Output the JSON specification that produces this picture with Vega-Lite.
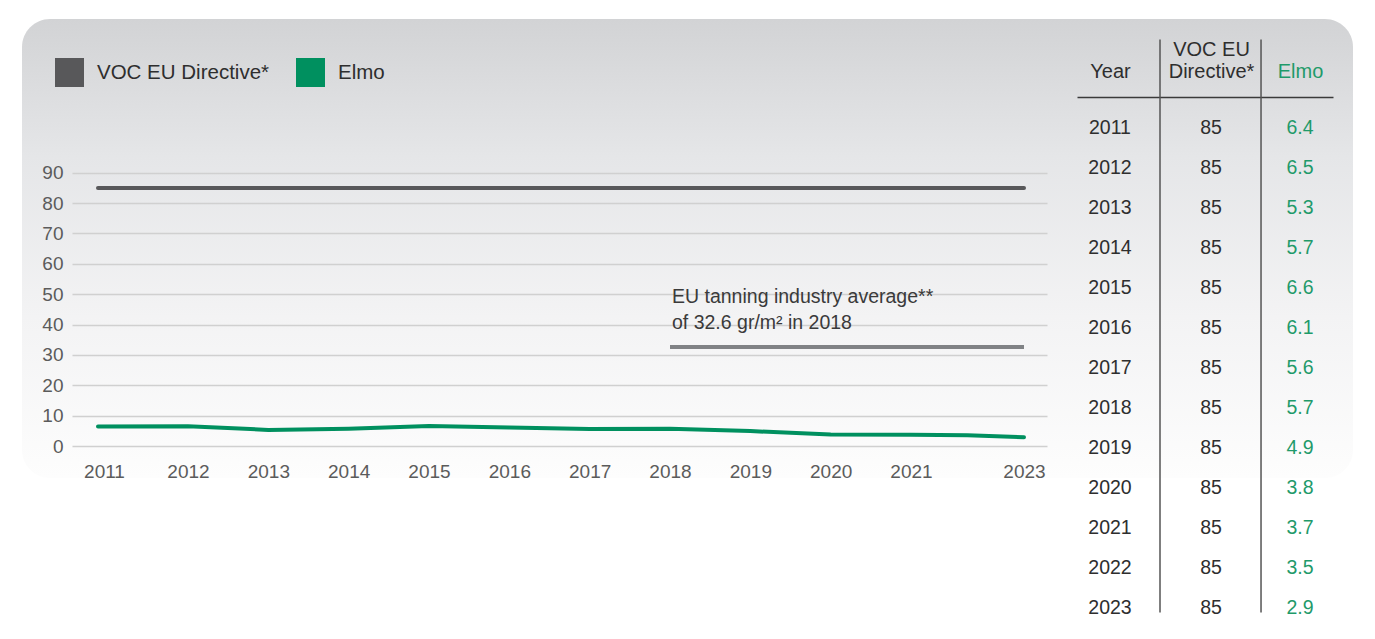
{
  "$schema": "https://vega.github.io/schema/vega-lite/v6.json",
  "width": 1331,
  "height": 459,
  "autosize": "none",
  "padding": {"left": 22, "top": 19, "right": 22, "bottom": 161},
  "background": "white",
  "config": {
    "font": "Liberation Sans",
    "view": {
      "stroke": null,
      "cornerRadius": 28,
      "fill": {
        "gradient": "linear", "x1": 0, "y1": 0, "x2": 0, "y2": 1,
        "stops": [
          {"offset": 0, "color": "#d2d3d5"},
          {"offset": 0.3, "color": "#e5e6e8"},
          {"offset": 0.65, "color": "#f3f3f4"},
          {"offset": 1, "color": "#fdfdfd"}
        ]
      }
    },
    "text": {"font": "Liberation Sans"}
  },
  "datasets": {
    "voc": [
      {"year": 2011, "series": "VOC EU Directive*", "value": 85},
      {"year": 2012, "series": "VOC EU Directive*", "value": 85},
      {"year": 2013, "series": "VOC EU Directive*", "value": 85},
      {"year": 2014, "series": "VOC EU Directive*", "value": 85},
      {"year": 2015, "series": "VOC EU Directive*", "value": 85},
      {"year": 2016, "series": "VOC EU Directive*", "value": 85},
      {"year": 2017, "series": "VOC EU Directive*", "value": 85},
      {"year": 2018, "series": "VOC EU Directive*", "value": 85},
      {"year": 2019, "series": "VOC EU Directive*", "value": 85},
      {"year": 2020, "series": "VOC EU Directive*", "value": 85},
      {"year": 2021, "series": "VOC EU Directive*", "value": 85},
      {"year": 2022, "series": "VOC EU Directive*", "value": 85},
      {"year": 2023, "series": "VOC EU Directive*", "value": 85},
      {"year": 2011, "series": "Elmo", "value": 6.4},
      {"year": 2012, "series": "Elmo", "value": 6.5},
      {"year": 2013, "series": "Elmo", "value": 5.3},
      {"year": 2014, "series": "Elmo", "value": 5.7},
      {"year": 2015, "series": "Elmo", "value": 6.6},
      {"year": 2016, "series": "Elmo", "value": 6.1},
      {"year": 2017, "series": "Elmo", "value": 5.6},
      {"year": 2018, "series": "Elmo", "value": 5.7},
      {"year": 2019, "series": "Elmo", "value": 4.9},
      {"year": 2020, "series": "Elmo", "value": 3.8},
      {"year": 2021, "series": "Elmo", "value": 3.7},
      {"year": 2022, "series": "Elmo", "value": 3.5},
      {"year": 2023, "series": "Elmo", "value": 2.9}
    ],
    "avg": [
      {"start_year": 2018, "end_year": 2023, "value": 32.6, "note": "EU tanning industry average**\nof 32.6 gr/m² in 2018"}
    ]
  },
  "data": {"name": "voc"},
  "layer": [
    {
      "layer": [
        {
          "mark": {"type": "line", "strokeWidth": 4, "strokeCap": "round"},
          "encoding": {
            "x": {
              "field": "year", "type": "quantitative",
              "scale": {"domain": [2010.6, 2011, 2012, 2021, 2023, 2023.5], "range": [50, 76, 166, 889, 1002, 1025]},
              "axis": {"orient": "bottom", "offset": -32, "values": [2011, 2012, 2013, 2014, 2015, 2016, 2017, 2018, 2019, 2020, 2021, 2023], "format": "d", "ticks": false, "domain": false, "grid": false, "labelPadding": 16, "labelFontSize": 19, "labelColor": "#5b5b5b", "title": null, "labelFlush": false, "labelOverlap": false,
                "labelOffset": {"condition": {"test": "datum.value === 2011", "value": 6}, "value": 0}}
            },
            "y": {
              "field": "value", "type": "quantitative",
              "scale": {"domain": [0, 90], "range": [427, 153.7]},
              "axis": {"orient": "left", "offset": -50, "values": [0, 10, 20, 30, 40, 50, 60, 70, 80, 90], "ticks": false, "domain": false, "grid": true, "gridColor": "#d0d0d0", "gridWidth": 1.5, "labelPadding": 9, "labelFontSize": 19, "labelColor": "#5b5b5b", "title": null}
            },
            "color": {
              "field": "series", "type": "nominal",
              "scale": {"domain": ["VOC EU Directive*", "Elmo"], "range": ["#58585a", "#00905f"]},
              "legend": {
                "orient": "none", "legendX": 33, "legendY": 39, "direction": "horizontal", "title": null,
                "symbolType": "square", "symbolSize": 841, "symbolStrokeWidth": 0, "symbolOpacity": 1,
                "labelFontSize": 20.5, "labelColor": "#2e2e2e", "labelOffset": 13, "columnPadding": 26, "padding": 0, "labelLimit": 400,
                "encode": {"symbols": {"update": {"fill": {"scale": "color", "field": "value"}, "strokeWidth": {"value": 0}, "opacity": {"value": 1}}}}
              }
            }
          }
        },
        {
          "data": {"name": "avg"},
          "mark": {"type": "rule", "strokeWidth": 4, "color": "#808285"},
          "encoding": {
            "x": {"field": "start_year", "type": "quantitative"},
            "x2": {"field": "end_year"},
            "y": {"field": "value", "type": "quantitative"}
          }
        },
        {
          "data": {"name": "avg"},
          "mark": {"type": "text", "align": "left", "baseline": "alphabetic", "dx": 2, "dy": -44, "fontSize": 19.5, "lineHeight": 26, "color": "#3a3a3a", "lineBreak": "\n"},
          "encoding": {
            "x": {"field": "start_year", "type": "quantitative"},
            "y": {"field": "value", "type": "quantitative"},
            "text": {"field": "note", "type": "nominal"}
          }
        }
      ]
    },
    {
      "layer": [
        {
          "transform": [{"filter": "datum.series === 'Elmo'"}],
          "mark": {"type": "text", "fontSize": 19.5, "baseline": "middle", "align": "center", "color": "#2e2e2e"},
          "encoding": {
            "x": {
              "datum": "Year", "type": "nominal",
              "scale": {"type": "point", "domain": ["Year", "VOC EU Directive*", "Elmo"], "range": [1055, 1311], "padding": 0.347},
              "axis": {
                "orient": "top", "offset": -78, "title": null, "ticks": false, "grid": false,
                "domain": true, "domainColor": "#3a3a3a", "domainWidth": 1.5,
                "labelAngle": 0, "labelFontSize": 20, "labelBaseline": "bottom", "labelPadding": 16, "labelLineHeight": -22,
                "labelOverlap": false, "labelFlush": false, "labelLimit": 300,
                "labelExpr": "datum.value === 'VOC EU Directive*' ? ['Directive*', 'VOC EU'] : datum.value",
                "labelOffset": {"condition": {"test": "datum.value === 'VOC EU Directive*'", "value": 6}, "value": 0},
                "labelColor": {"condition": {"test": "datum.value === 'Elmo'", "value": "#1f9a6a"}, "value": "#2e2e2e"}
              }
            },
            "y": {
              "field": "year", "type": "ordinal",
              "scale": {"type": "point", "domain": [2011, 2012, 2013, 2014, 2015, 2016, 2017, 2018, 2019, 2020, 2021, 2022, 2023], "range": [108.5, 588.5], "padding": 0},
              "axis": null
            },
            "text": {"field": "year", "type": "ordinal"}
          }
        },
        {
          "mark": {"type": "text", "fontSize": 19.5, "baseline": "middle", "align": "center", "dx": {"expr": "datum.series === 'VOC EU Directive*' ? 6 : 0"}},
          "encoding": {
            "x": {"field": "series", "type": "nominal"},
            "y": {"field": "year", "type": "ordinal"},
            "text": {"field": "value", "type": "quantitative"},
            "color": {"condition": {"test": "datum.series === 'Elmo'", "value": "#1f9a6a"}, "value": "#2e2e2e"}
          }
        },
        {
          "transform": [{"filter": "datum.year === 2011 && datum.series === 'Elmo'"}],
          "mark": {"type": "rule", "strokeWidth": 1.5, "color": "#555555", "xOffset": -45, "yOffset": -88, "y2Offset": 5},
          "encoding": {
            "x": {"datum": "VOC EU Directive*", "type": "nominal"},
            "y": {"datum": 2011, "type": "ordinal"},
            "y2": {"datum": 2023}
          }
        },
        {
          "transform": [{"filter": "datum.year === 2011 && datum.series === 'Elmo'"}],
          "mark": {"type": "rule", "strokeWidth": 1.5, "color": "#555555", "xOffset": -39, "yOffset": -88, "y2Offset": 5},
          "encoding": {
            "x": {"datum": "Elmo", "type": "nominal"},
            "y": {"datum": 2011, "type": "ordinal"},
            "y2": {"datum": 2023}
          }
        }
      ]
    }
  ],
  "resolve": {
    "scale": {"x": "independent", "y": "independent"},
    "axis": {"x": "independent", "y": "independent"}
  }
}
